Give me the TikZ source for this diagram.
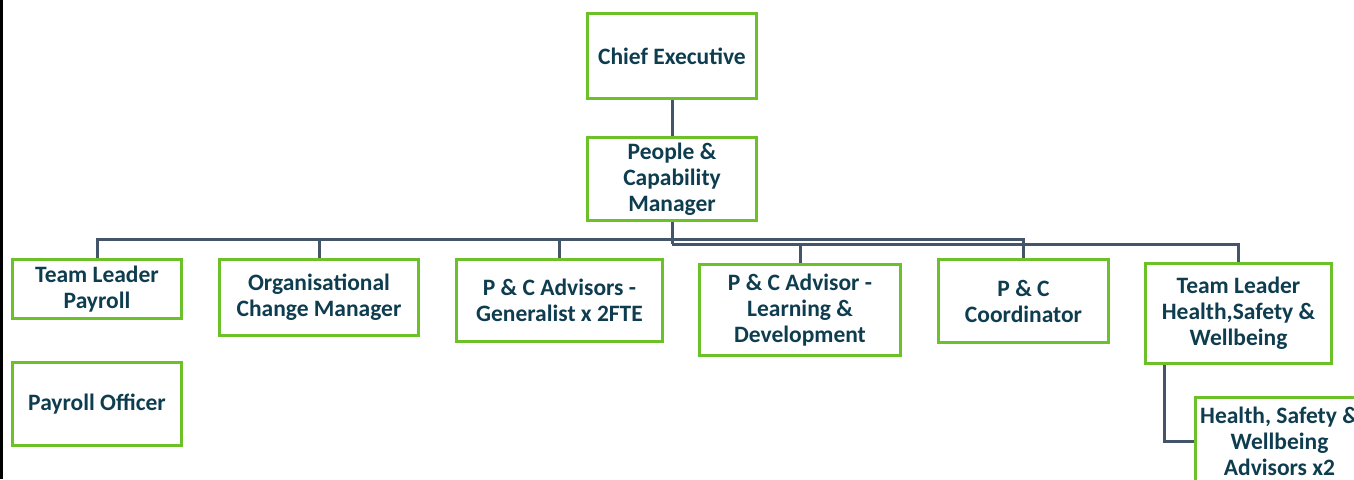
\documentclass[tikz,border=0pt]{standalone}
\usepackage{fontspec}
\setmainfont{Carlito}
\usetikzlibrary{positioning,calc}
\definecolor{postgreen}{RGB}{108,192,40}
\definecolor{posttext}{RGB}{14,61,80}
\definecolor{linkgrey}{RGB}{68,84,106}
\tikzset{
	post/.style={draw=postgreen, line width=3pt, fill=white, inner sep=0pt,
		align=center, text=posttext, font=\bfseries\fontsize{23.5}{26}\selectfont},
	link/.style={draw=linkgrey, line width=3pt}
}

\begin{document}
\begin{tikzpicture}[x=1pt,y=-1pt]
		\useasboundingbox (0,0) rectangle (1354,479);
		\clip (0,0) rectangle (1354,479);
		\draw[line width=3pt,black] (1.5,0) -- (1.5,479);
		% top of the tree
		\node[post, minimum width=169, minimum height=85] (chief) at (672,56) {Chief Executive};
		\node[post, minimum width=169, minimum height=83] (pcm) at (672,179) {People \&\\Capability\\Manager};
		% first row of posts
		\node[post, minimum width=169, minimum height=59] (tlpay) at (97,289) {Team Leader\\Payroll};
		\node[post, minimum width=199, minimum height=76] (ocm) at (319,297.5) {Organisational\\Change Manager};
		\node[post, minimum width=206, minimum height=82] (pcgen) at (559.5,300.5) {P \& C Advisors -\\Generalist x 2FTE};
		\node[post, minimum width=201, minimum height=91] (pcld) at (800,310) {P \& C Advisor -\\Learning \&\\Development};
		\node[post, minimum width=170, minimum height=83] (pccoord) at (1023.5,301) {P \& C\\Coordinator};
		\node[post, minimum width=186, minimum height=100] (tlhsw) at (1238.5,313.5) {Team Leader\\Health,Safety \&\\Wellbeing};
		% second row
		\node[post, minimum width=169, minimum height=83] (payoff) at (97,404) {Payroll Officer};
		\node[post, minimum width=169, minimum height=88, anchor=west] (hswadv) at (1193.5,441) {Health, Safety \&\\Wellbeing\\Advisors x2};
		% connectors
		\coordinate (hubA) at ($(pcm.south)+(0,17)$);
		\coordinate (hubB) at ($(pcm.south)+(0,22)$);
		\draw[link] (chief) -- (pcm);
		\draw[link] (pcm.south) -- (hubB);
		\foreach \n in {tlpay,ocm,pcgen,pccoord}
			\draw[link] (hubA) -| (\n.north);
		\foreach \n in {pcld,tlhsw}
			\draw[link] (hubB) -| (\n.north);
		\draw[link] ([xshift=20]tlhsw.south west) |- (hswadv.west);
	\end{tikzpicture}
\end{document}
